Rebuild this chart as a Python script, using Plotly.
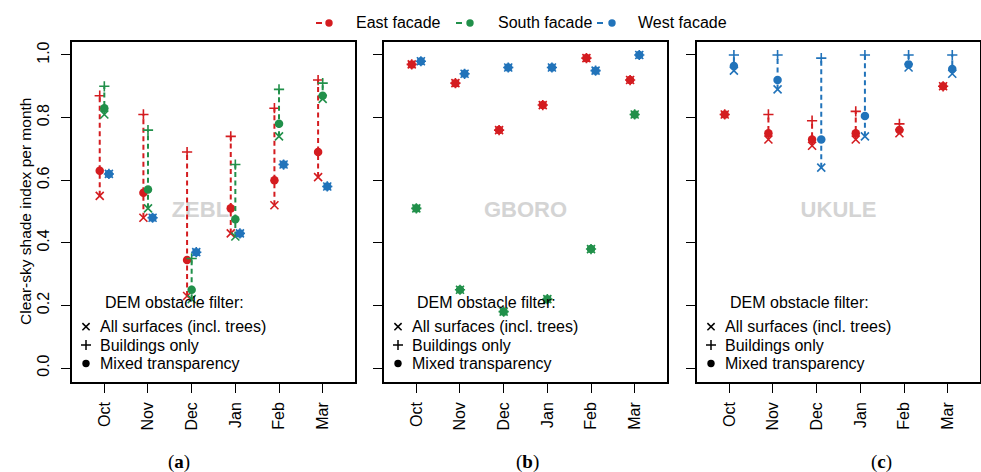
import plotly.graph_objects as go

# ---------------- data ----------------
months = ["Oct", "Nov", "Dec", "Jan", "Feb", "Mar"]
month_pos = [1, 2, 3, 4, 5, 6]
y_tickvals = [0.0, 0.2, 0.4, 0.6, 0.8, 1.0]
y_ticktext = ["0.0", "0.2", "0.4", "0.6", "0.8", "1.0"]

facades = ["East facade", "South facade", "West facade"]
facade_colors = ["#d41c20", "#21904a", "#2173ba"]
facade_offsets = [-0.105, 0.0, 0.105]

sites = ["ZEBL", "GBORO", "UKULE"]
panel_letters = ["a", "b", "c"]
site_label_x = [3.2, 3.5, 3.5]

# ZEBL  (all surfaces / buildings only / mixed transparency)
zebl_east_all = [0.55, 0.48, 0.23, 0.43, 0.52, 0.61]
zebl_east_bld = [0.87, 0.81, 0.69, 0.74, 0.83, 0.92]
zebl_east_mix = [0.63, 0.56, 0.345, 0.51, 0.60, 0.69]
zebl_south_all = [0.81, 0.51, 0.22, 0.42, 0.74, 0.86]
zebl_south_bld = [0.90, 0.76, 0.35, 0.65, 0.89, 0.91]
zebl_south_mix = [0.83, 0.57, 0.25, 0.475, 0.78, 0.87]
zebl_west_all = [0.62, 0.48, 0.37, 0.43, 0.65, 0.58]
zebl_west_bld = [0.62, 0.48, 0.37, 0.43, 0.65, 0.58]
zebl_west_mix = [0.62, 0.48, 0.37, 0.43, 0.65, 0.58]

# GBORO
gboro_east_all = [0.97, 0.91, 0.76, 0.84, 0.99, 0.92]
gboro_east_bld = [0.97, 0.91, 0.76, 0.84, 0.99, 0.92]
gboro_east_mix = [0.97, 0.91, 0.76, 0.84, 0.99, 0.92]
gboro_south_all = [0.51, 0.25, 0.18, 0.22, 0.38, 0.81]
gboro_south_bld = [0.51, 0.25, 0.18, 0.22, 0.38, 0.81]
gboro_south_mix = [0.51, 0.25, 0.18, 0.22, 0.38, 0.81]
gboro_west_all = [0.98, 0.94, 0.96, 0.96, 0.95, 1.00]
gboro_west_bld = [0.98, 0.94, 0.96, 0.96, 0.95, 1.00]
gboro_west_mix = [0.98, 0.94, 0.96, 0.96, 0.95, 1.00]

# UKULE (no south facade)
ukule_east_all = [0.81, 0.73, 0.71, 0.73, 0.75, 0.90]
ukule_east_bld = [0.81, 0.81, 0.79, 0.82, 0.78, 0.90]
ukule_east_mix = [0.81, 0.75, 0.73, 0.75, 0.76, 0.90]
ukule_south_all = [None] * 6
ukule_south_bld = [None] * 6
ukule_south_mix = [None] * 6
ukule_west_all = [0.95, 0.89, 0.64, 0.74, 0.96, 0.94]
ukule_west_bld = [1.00, 1.00, 0.99, 1.00, 1.00, 1.00]
ukule_west_mix = [0.965, 0.92, 0.73, 0.805, 0.97, 0.955]

site_data = [
    [(zebl_east_all, zebl_east_bld, zebl_east_mix),
     (zebl_south_all, zebl_south_bld, zebl_south_mix),
     (zebl_west_all, zebl_west_bld, zebl_west_mix)],
    [(gboro_east_all, gboro_east_bld, gboro_east_mix),
     (gboro_south_all, gboro_south_bld, gboro_south_mix),
     (gboro_west_all, gboro_west_bld, gboro_west_mix)],
    [(ukule_east_all, ukule_east_bld, ukule_east_mix),
     (ukule_south_all, ukule_south_bld, ukule_south_mix),
     (ukule_west_all, ukule_west_bld, ukule_west_mix)],
]

# ---------------- layout geometry (pixels) ----------------
W, H = 981, 472
panel_left = [72, 384, 697]
panel_right = [355, 667, 980]
plot_top, plot_bottom = 42, 382
FONT = "Liberation Sans, Arial, sans-serif"


def px(x):
    return x / W


def py(y):
    return 1 - y / H


fig = go.Figure()

for i, site in enumerate(sites):
    xa = "x" if i == 0 else f"x{i+1}"
    ya = "y" if i == 0 else f"y{i+1}"
    # background site label (drawn first, beneath the points)
    fig.add_trace(go.Scatter(
        x=[site_label_x[i]], y=[0.5], mode="text", text=[f"<b>{site}</b>"],
        textfont=dict(family=FONT, size=22, color="#d4d4d4"),
        xaxis=xa, yaxis=ya, showlegend=False, hoverinfo="skip"))
    for j, fac in enumerate(facades):
        vals_all, vals_bld, vals_mix = site_data[i][j]
        col = facade_colors[j]
        xs = [m + facade_offsets[j] for m in month_pos]
        lx, ly = [], []
        for k in range(6):
            if vals_all[k] is None:
                continue
            lx += [xs[k], xs[k], None]
            ly += [vals_all[k], vals_bld[k], None]
        if lx:
            fig.add_trace(go.Scatter(
                x=lx, y=ly, mode="lines",
                line=dict(color=col, width=2, dash="5px,3.5px"),
                xaxis=xa, yaxis=ya, showlegend=False, hoverinfo="skip"))
        fig.add_trace(go.Scatter(
            x=xs, y=vals_all, mode="markers",
            marker=dict(symbol="x-thin", size=8, line=dict(color=col, width=1.6)),
            xaxis=xa, yaxis=ya, showlegend=False))
        fig.add_trace(go.Scatter(
            x=xs, y=vals_bld, mode="markers",
            marker=dict(symbol="cross-thin", size=7.3, line=dict(color=col, width=1.6)),
            xaxis=xa, yaxis=ya, showlegend=False))
        fig.add_trace(go.Scatter(
            x=xs, y=vals_mix, mode="markers",
            marker=dict(symbol="circle", size=8.5, color=col, line=dict(width=0)),
            xaxis=xa, yaxis=ya, showlegend=False))

layout = dict(
    width=W, height=H,
    margin=dict(l=0, r=0, t=0, b=0),
    paper_bgcolor="white", plot_bgcolor="white",
    font=dict(family=FONT, size=16, color="black"),
    showlegend=False,
)

for i in range(3):
    xkey = "xaxis" if i == 0 else f"xaxis{i+1}"
    ykey = "yaxis" if i == 0 else f"yaxis{i+1}"
    xa = "x" if i == 0 else f"x{i+1}"
    ya = "y" if i == 0 else f"y{i+1}"
    layout[xkey] = dict(
        domain=[px(panel_left[i]), px(panel_right[i])], anchor=ya,
        range=[0.26, 6.74], tickmode="array", tickvals=month_pos, ticktext=months,
        tickangle=-90, ticks="outside", ticklen=9, tickwidth=1.3, tickcolor="black",
        showline=True, mirror=True, linecolor="black", linewidth=1.5,
        showgrid=False, zeroline=False, tickfont=dict(size=16),
        ticklabelstandoff=3, fixedrange=True)
    layout[ykey] = dict(
        domain=[py(plot_bottom), py(plot_top)], anchor=xa,
        range=[-0.0447, 1.0415], tickmode="array", tickvals=y_tickvals,
        ticktext=y_ticktext, showticklabels=(i == 0), tickangle=-90,
        ticks="outside", ticklen=9, tickwidth=1.3, tickcolor="black",
        showline=True, mirror=True, linecolor="black", linewidth=1.5,
        showgrid=False, zeroline=False, tickfont=dict(size=16),
        ticklabelstandoff=6, fixedrange=True)

fig.update_layout(**layout)

annotations = []
shapes = []

# y-axis title
annotations.append(dict(
    x=px(25), y=py(212), xref="paper", yref="paper", showarrow=False,
    text="Clear-sky shade index per month", textangle=-90,
    font=dict(size=15.5), xanchor="center", yanchor="middle"))

# top legend
leg_dash = [316, 456, 597]
leg_dot = [329, 470, 612]
leg_text = [356, 498, 638]
leg_y = 23
for j, fac in enumerate(facades):
    col = facade_colors[j]
    shapes.append(dict(type="line", xref="paper", yref="paper",
                       x0=px(leg_dash[j]), x1=px(leg_dash[j] + 6),
                       y0=py(leg_y), y1=py(leg_y), line=dict(color=col, width=2)))
    shapes.append(dict(type="circle", xref="paper", yref="paper",
                       x0=px(leg_dot[j] - 3.7), x1=px(leg_dot[j] + 3.7),
                       y0=py(leg_y - 3.7), y1=py(leg_y + 3.7),
                       fillcolor=col, line=dict(width=0)))
    annotations.append(dict(
        x=px(leg_text[j] - 2), y=py(leg_y), xref="paper", yref="paper",
        showarrow=False, text=fac, font=dict(size=16),
        xanchor="left", yanchor="middle"))

# inner "DEM obstacle filter" legends
filter_labels = ["All surfaces (incl. trees)", "Buildings only", "Mixed transparency"]
row_y = [326.7, 345, 363.5]
for i in range(3):
    L = panel_left[i]
    annotations.append(dict(
        x=px(L + 31), y=py(302), xref="paper", yref="paper", showarrow=False,
        text="DEM obstacle filter:", font=dict(size=16),
        xanchor="left", yanchor="middle"))
    sx = L + 14
    # x symbol
    r = 3.6
    for (a0, b0, a1, b1) in [(-r, -r, r, r), (-r, r, r, -r)]:
        shapes.append(dict(type="line", xref="paper", yref="paper",
                           x0=px(sx + a0), y0=py(row_y[0] + b0),
                           x1=px(sx + a1), y1=py(row_y[0] + b1),
                           line=dict(color="black", width=1.5)))
    # + symbol
    r = 5
    shapes.append(dict(type="line", xref="paper", yref="paper",
                       x0=px(sx - r), y0=py(row_y[1]), x1=px(sx + r), y1=py(row_y[1]),
                       line=dict(color="black", width=1.5)))
    shapes.append(dict(type="line", xref="paper", yref="paper",
                       x0=px(sx), y0=py(row_y[1] - r), x1=px(sx), y1=py(row_y[1] + r),
                       line=dict(color="black", width=1.5)))
    # dot
    r = 3.7
    shapes.append(dict(type="circle", xref="paper", yref="paper",
                       x0=px(sx - r), x1=px(sx + r),
                       y0=py(row_y[2] - r), y1=py(row_y[2] + r),
                       fillcolor="black", line=dict(width=0)))
    for k, lab in enumerate(filter_labels):
        annotations.append(dict(
            x=px(L + 25.5), y=py(row_y[k]), xref="paper", yref="paper",
            showarrow=False, text=lab, font=dict(size=16),
            xanchor="left", yanchor="middle"))

# panel letters
letter_x = [179, 527, 881]
for i, let in enumerate(panel_letters):
    annotations.append(dict(
        x=px(letter_x[i]), y=py(462), xref="paper", yref="paper", showarrow=False,
        text=f"(<b>{let}</b>)",
        font=dict(family="Liberation Serif, DejaVu Serif, serif", size=19),
        xanchor="center", yanchor="middle"))

fig.update_layout(annotations=annotations, shapes=shapes)

fig.write_html("out.html")
